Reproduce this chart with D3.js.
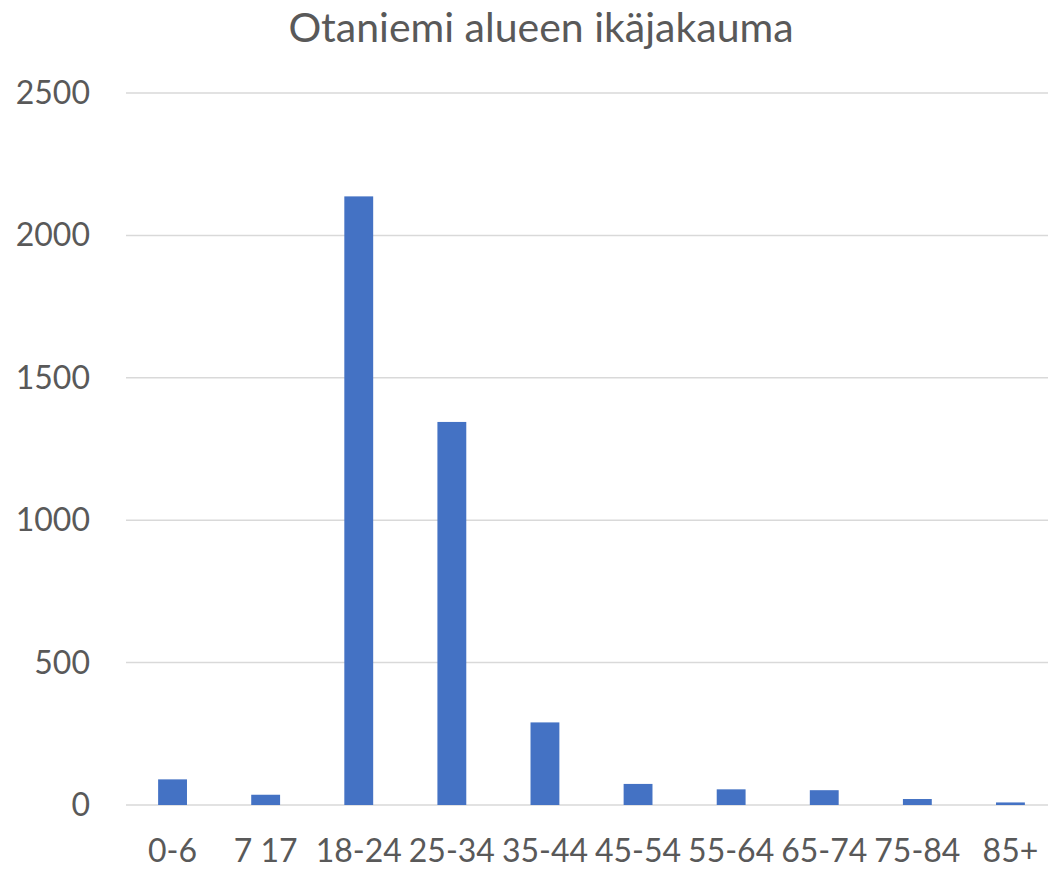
<!DOCTYPE html>
<html>
<head>
<meta charset="utf-8">
<script src="https://cdnjs.cloudflare.com/ajax/libs/d3/7.8.5/d3.min.js"></script>
<style>
  body { margin: 0; background: #fff; }
  #barChart { width: 1048px; height: 869px; }
  text { font-family: Lato, "Open Sans", sans-serif; fill: #595959; }
</style>
</head>
<body>
<div id="barChart"></div>
<script>
var ageGroups = ["0-6", "7 17", "18-24", "25-34", "35-44", "45-54", "55-64", "65-74", "75-84", "85+"];
var population = [90, 36, 2137, 1345, 290, 74, 55, 52, 21, 9];
var yTicks = [0, 500, 1000, 1500, 2000, 2500];
var chartTitle = "Otaniemi alueen ikäjakauma";

function drawBars() {
    var margin = {top: 93, left: 126, bottom: 64, right: -9};
    var width = 1048 - margin.left - margin.right;
    var height = 869 - margin.top - margin.bottom;

    var data = ageGroups.map(function(g, i) { return {group: g, value: population[i]}; });

    var xScale = d3.scaleBand()
                   .domain(ageGroups)
                   .range([0, width])
                   .paddingInner(0.69)
                   .paddingOuter(0.345);

    var yScale = d3.scaleLinear()
                   .domain([0, 2500])
                   .range([height, 0]);

    var svg = d3.select("#barChart")
                .append("svg")
                .attr("width", 1048)
                .attr("height", 869);

    svg.append("text")
       .attr("x", 541)
       .attr("y", 42)
       .attr("text-anchor", "middle")
       .attr("font-size", "41px")
       .text(chartTitle);

    var plot = svg.append("g")
                  .attr("transform", "translate(" + margin.left + "," + margin.top + ")");

    // gridlines
    plot.selectAll("line.grid")
        .data(yTicks)
        .enter()
        .append("line")
        .attr("class", "grid")
        .attr("x1", 0)
        .attr("x2", width)
        .attr("y1", function(d) { return yScale(d); })
        .attr("y2", function(d) { return yScale(d); })
        .attr("stroke", "#d9d9d9")
        .attr("stroke-width", 1.5);

    plot.selectAll("rect")
        .data(data)
        .enter()
        .append("rect")
        .attr("x", function(d) { return xScale(d.group); })
        .attr("width", xScale.bandwidth())
        .attr("y", function(d) { return yScale(d.value); })
        .attr("height", function(d) { return height - yScale(d.value); })
        .attr("fill", "#4472c4");

    // y labels
    svg.selectAll("text.yAxis")
       .data(yTicks)
       .enter()
       .append("text")
       .attr("class", "yAxis")
       .attr("x", 90)
       .attr("y", function(d) { return margin.top + yScale(d) + 11; })
       .attr("text-anchor", "end")
       .attr("font-size", "32px")
       .text(function(d) { return d; });

    // x labels
    svg.selectAll("text.xAxis")
       .data(data)
       .enter()
       .append("text")
       .attr("class", "xAxis")
       .attr("x", function(d) { return margin.left + xScale(d.group) + xScale.bandwidth() / 2; })
       .attr("y", 862)
       .attr("text-anchor", "middle")
       .attr("font-size", "32px")
       .text(function(d) { return d.group; });
}

drawBars();
</script>
</body>
</html>
